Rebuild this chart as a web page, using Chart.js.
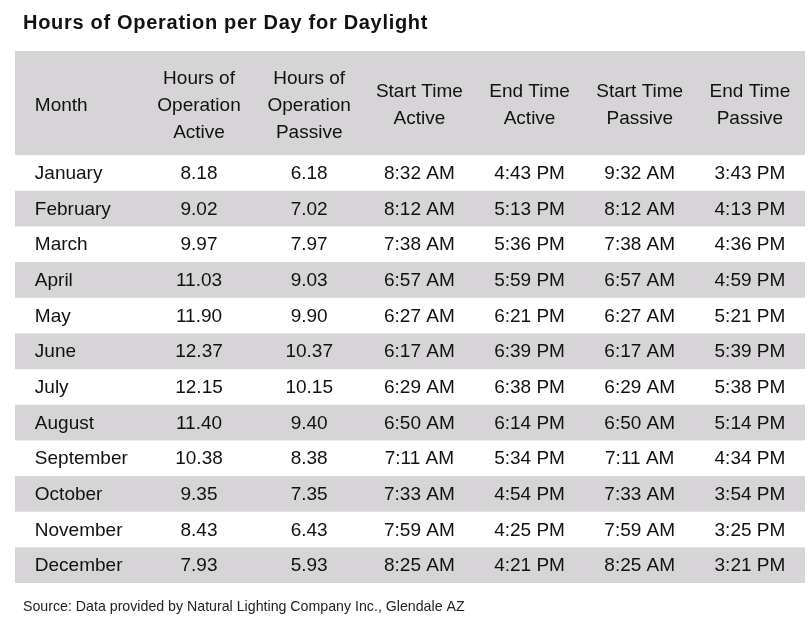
<!DOCTYPE html>
<html>
<head>
<meta charset="utf-8">
<script src="https://cdn.jsdelivr.net/npm/chart.js@4/dist/chart.umd.min.js"></script>
<style>
  html, body { margin: 0; padding: 0; background: #ffffff; }
  #wrap { width: 810px; height: 622px; position: relative; }
</style>
</head>
<body>
<div id="wrap"><canvas id="c"></canvas></div>
<script>
const chartTitle = "Hours of Operation per Day for Daylight";
const sourceNote = "Source: Data provided by Natural Lighting Company Inc., Glendale AZ";

const headers = [
  ["Month"],
  ["Hours of", "Operation", "Active"],
  ["Hours of", "Operation", "Passive"],
  ["Start Time", "Active"],
  ["End Time", "Active"],
  ["Start Time", "Passive"],
  ["End Time", "Passive"]
];

const months = ["January", "February", "March", "April", "May", "June", "July",
  "August", "September", "October", "November", "December"];
const hoursActive = ["8.18", "9.02", "9.97", "11.03", "11.90", "12.37", "12.15",
  "11.40", "10.38", "9.35", "8.43", "7.93"];
const hoursPassive = ["6.18", "7.02", "7.97", "9.03", "9.90", "10.37", "10.15",
  "9.40", "8.38", "7.35", "6.43", "5.93"];
const startActive = ["8:32 AM", "8:12 AM", "7:38 AM", "6:57 AM", "6:27 AM", "6:17 AM",
  "6:29 AM", "6:50 AM", "7:11 AM", "7:33 AM", "7:59 AM", "8:25 AM"];
const endActive = ["4:43 PM", "5:13 PM", "5:36 PM", "5:59 PM", "6:21 PM", "6:39 PM",
  "6:38 PM", "6:14 PM", "5:34 PM", "4:54 PM", "4:25 PM", "4:21 PM"];
const startPassive = ["9:32 AM", "8:12 AM", "7:38 AM", "6:57 AM", "6:27 AM", "6:17 AM",
  "6:29 AM", "6:50 AM", "7:11 AM", "7:33 AM", "7:59 AM", "8:25 AM"];
const endPassive = ["3:43 PM", "4:13 PM", "4:36 PM", "4:59 PM", "5:21 PM", "5:39 PM",
  "5:38 PM", "5:14 PM", "4:34 PM", "3:54 PM", "3:25 PM", "3:21 PM"];

const columns = [months, hoursActive, hoursPassive, startActive, endActive, startPassive, endPassive];

// layout constants (positions in scale units)
const colX = [-0.49, 1, 2, 3, 4, 5, 6];
const colAlign = ["left", "center", "center", "center", "center", "center", "center"];
const X_MIN = -0.67, X_MAX = 6.5;
const HEADER_TOP = -2.92, HEADER_MID = -1.46;
const GRAY = "#d6d4d6";
const FONT = "'Liberation Sans', Arial, sans-serif";

const tablePlugin = {
  id: "tablePlugin",
  beforeDatasetsDraw(chart) {
    const ctx = chart.ctx;
    const xs = chart.scales.x, ys = chart.scales.y;
    const left = xs.getPixelForValue(X_MIN), right = xs.getPixelForValue(X_MAX);
    ctx.save();
    // header band
    ctx.fillStyle = GRAY;
    const hTop = ys.getPixelForValue(HEADER_TOP), hBot = ys.getPixelForValue(0);
    ctx.fillRect(left, hTop, right - left, hBot - hTop);
    // striped rows
    months.forEach((m, i) => {
      if (i % 2 === 1) {
        const t = ys.getPixelForValue(i), b = ys.getPixelForValue(i + 1);
        ctx.fillRect(left, t, right - left, b - t);
      }
    });
    // header text
    ctx.fillStyle = "#111111";
    ctx.font = "19px " + FONT;
    ctx.textBaseline = "middle";
    const lineH = 27;
    headers.forEach((lines, c) => {
      ctx.textAlign = colAlign[c];
      const cx = xs.getPixelForValue(colX[c]);
      const cy = ys.getPixelForValue(HEADER_MID) + 2.5;
      const start = cy - (lines.length - 1) * lineH / 2;
      lines.forEach((ln, k) => ctx.fillText(ln, cx, start + k * lineH));
    });
    // body text
    columns.forEach((col, c) => {
      ctx.textAlign = colAlign[c];
      const cx = xs.getPixelForValue(colX[c]);
      col.forEach((v, i) => {
        ctx.fillText(v, cx, ys.getPixelForValue(i + 0.5) + 1);
      });
    });
    // title
    ctx.textAlign = "left";
    ctx.textBaseline = "alphabetic";
    ctx.font = "bold 20px " + FONT;
    if ("letterSpacing" in ctx) ctx.letterSpacing = "0.7px";
    ctx.fillText(chartTitle, 23, 29);
    if ("letterSpacing" in ctx) ctx.letterSpacing = "0px";
    // source
    ctx.font = "14.2px " + FONT;
    ctx.fillStyle = "#222222";
    ctx.fillText(sourceNote, 23, 611);
    ctx.restore();
  }
};

new Chart(document.getElementById("c"), {
  type: "scatter",
  data: { datasets: [{ data: [], pointRadius: 0 }] },
  options: {
    responsive: true,
    maintainAspectRatio: false,
    animation: false,
    layout: { padding: { left: 15, right: 5, top: 51, bottom: 39 } },
    plugins: { legend: { display: false }, tooltip: { enabled: false }, title: { display: false } },
    scales: {
      x: { type: "linear", min: X_MIN, max: X_MAX, display: false },
      y: { type: "linear", min: HEADER_TOP, max: 12, reverse: true, display: false }
    }
  },
  plugins: [tablePlugin]
});
</script>
</body>
</html>
